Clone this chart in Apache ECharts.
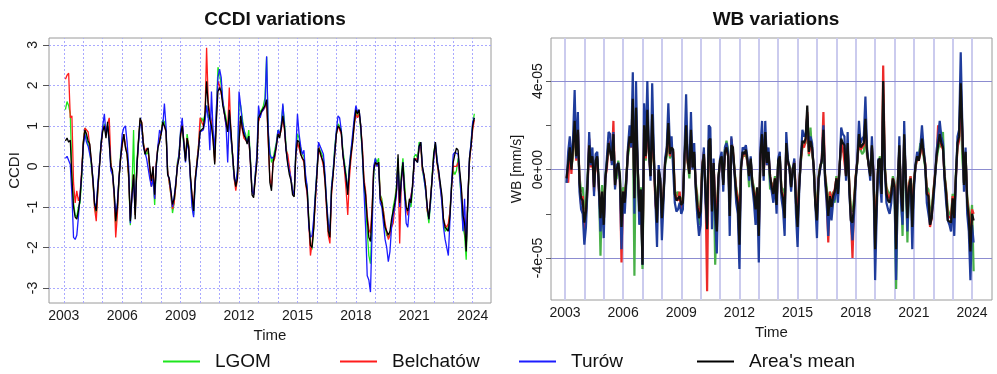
<!DOCTYPE html>
<html>
<head>
<meta charset="utf-8">
<script src="https://cdn.jsdelivr.net/npm/echarts@6/dist/echarts.min.js"></script>
<style>
  html, body { margin: 0; padding: 0; background: #fff; }
  #container { width: 997px; height: 374px; }
</style>
</head>
<body>
<div id="container"></div>
<script>
var dom = document.getElementById("container");
var myChart = echarts.init(dom, null, { renderer: "canvas" });

const FONT = "Liberation Sans, Arial, Helvetica, sans-serif";

// monthly series, first value = Feb 2003
const startYear = 2003;
const startMonth = 2;
const seriesNames = ["LGOM", "Belchatów", "Turów", "Area's mean"];
const yearTicks = [2003, 2006, 2009, 2012, 2015, 2018, 2021, 2024];
const ccdiTicks = [-3, -2, -1, 0, 1, 2, 3];
const wbTicks = [-4, -2, 0, 2, 4];       // in 1e-5 mm/s
const wbLabelTicks = [-4, 0, 4];

// CCDI values
const ccdiGreen = [
  1.4, 1.6, 1.5, 1.3, -0.2, -0.9, -1.2, -1.25, -1.0, -0.9, -0.3, 0.6,
  0.95, 0.7, 0.55, 0.4, 0.0, -0.4, -1.0, -1.2, -0.6, 0.05, 0.6, 0.9,
  1.05, 0.8, 1.0, 0.7, 0.1, -0.2, -0.7, -1.45, -1.1, -0.4, 0.3, 0.6,
  0.7, 0.5, 0.35, -0.3, -1.45, -0.6, 0.9, -1.2, 0.1, 0.65, 1.1, 1.05,
  0.6, 0.35, 0.3, 0.4, -0.1, -0.5, -0.2, -0.95, 0.0, 0.5, 0.65, 0.85,
  1.15, 1.1, 0.9, -0.1, -0.4, -0.7, -1.15, -0.9, -0.5, 0.1, 0.3, 0.85,
  0.95, 0.5, 0.2, 0.8, 0.5, -0.3, -0.8, -1.2, -0.4, 0.1, 0.5, 1.0,
  1.2, 1.1, 1.1, 1.5, 1.2, 1.3, 1.1, 0.8, 0.2, 1.3, 2.45, 2.3,
  2.0, 1.6, 1.4, 1.2, 0.9, 1.2, 0.8, 0.2, -0.3, -0.5, -0.2, 1.6,
  1.5, 1.2, 0.9, 0.8, 0.6, 0.9, 0.2, -0.6, -0.7, -0.2, 0.2, 1.3,
  1.3, 1.4, 1.5, 1.7, 2.7, 0.8, 0.4, 0.1, 0.2, 0.2, 0.6, 0.9,
  0.8, 1.0, 1.5, 1.1, 0.5, 0.15, -0.1, -0.3, -0.6, -0.65, 0.4, 0.8,
  0.7, 0.4, 0.3, 0.25, -0.3, -0.5, -1.3, -1.9, -2.05, -1.5, -0.7, -0.1,
  0.5, 0.4, 0.3, 0.2, -0.3, -0.9, -1.5, -1.7, -0.5, -0.1, 0.5, 0.85,
  1.05, 1.0, 0.9, 0.4, 0.1, -0.2, -0.6, 0.0, 0.4, 0.7, 1.1, 1.35,
  1.25, 1.3, 0.9, 0.3, -0.5, -0.9, -1.6, -2.2, -2.4, -1.3, -0.2, 0.2,
  0.1, 0.2, -0.7, -0.8, -1.1, -1.5, -1.7, -1.75, -1.7, -1.4, -1.0, -0.8,
  -0.5, 0.2, -1.0, -0.2, 0.2, -0.4, -1.0, -1.2, -0.9, -1.0, -0.5, 0.25,
  0.3, 0.2, 0.6, 0.55, -0.1, -0.3, -0.6, -1.1, -1.4, -0.9, -0.2, 0.35,
  0.55, 0.2, -0.2, -0.5, -0.8, -1.4, -1.6, -1.55, -1.5, -1.1, -0.4, -0.1,
  -0.2, -0.1, 0.2, -0.3, -0.8, -1.5, -1.7, -2.3, -0.9, 0.1, 0.6, 1.05,
  1.3
];
const ccdiRed = [
  2.15, 2.25, 2.3, 1.2, 1.25, -0.4, -0.9, -0.6, -0.85, -0.7, -0.1, 0.6,
  0.95, 0.9, 0.85, 0.5, 0.1, -0.4, -1.05, -1.35, -0.6, 0.05, 0.5, 0.95,
  1.0, 0.8, 1.05, 1.2, 0.1, -0.2, -0.7, -1.75, -1.2, -0.3, 0.2, 0.5,
  0.8, 0.5, 0.3, -0.3, -1.3, -0.7, -0.2, -1.2, -0.1, 0.6, 1.15, 1.1,
  0.6, 0.35, 0.45, 0.4, -0.1, -0.5, 0.0, -0.8, 0.1, 0.5, 0.65, 0.85,
  1.05, 1.0, 0.85, -0.1, -0.4, -0.7, -1.05, -0.9, -0.5, 0.05, 0.25, 0.75,
  1.1, 0.6, 0.2, 0.7, 0.5, -0.25, -0.7, -1.0, -0.3, 0.1, 0.5, 1.2,
  1.1, 1.0, 1.2, 2.93, 1.6, 1.3, 1.1, 0.7, 0.1, 1.2, 2.1, 2.0,
  1.8, 1.6, 1.3, 1.0, 0.9, 1.95, 0.8, 0.3, -0.3, -0.6, -0.3, 0.6,
  1.2, 0.9, 0.7, 0.7, 0.6, 0.7, 0.1, -0.6, -0.7, -0.3, 0.2, 1.1,
  1.25, 1.35, 1.4, 1.45, 1.6, 0.6, -0.3, -0.5, 0.1, 0.2, 0.5, 0.85,
  0.75, 0.9, 1.2, 0.9, 0.4, 0.3, 0.0, -0.3, -0.6, -0.7, 0.3, 0.6,
  0.6, 0.3, 0.2, 0.1, -0.4, -0.7, -1.4, -2.2, -1.9, -1.5, -0.9, -0.2,
  0.5, 0.3, 0.2, 0.0, -0.4, -1.1, -1.7, -1.9, -0.7, -0.2, 0.35, 0.8,
  1.0, 1.0, 0.8, 0.3, -0.1, -0.6, -1.2, -0.3, 0.2, 0.6, 1.0, 1.3,
  1.2, 1.3, 1.0, 0.5, -0.3, -0.6, -1.2, -1.55, -1.65, -1.0, 0.0, 0.1,
  0.0, 0.1, -0.7, -0.9, -1.1, -1.4, -1.6, -1.8, -1.7, -1.5, -1.4, -1.0,
  -0.6, 0.1, -1.9, -0.4, 0.0, -0.6, -1.0, -1.2, -0.9, -0.9, -0.5, 0.15,
  0.2, 0.15, 0.45, 0.5, -0.1, -0.2, -0.5, -1.1, -1.2, -0.8, -0.3, 0.25,
  0.5, 0.1, -0.2, -0.5, -0.8, -1.3, -1.45, -1.5, -1.4, -1.1, -0.5, 0.0,
  0.0, 0.0, 0.1, -0.2, -0.6, -1.1, -1.3, -2.0, -0.8, 0.1, 0.5, 0.9,
  1.15
];
const ccdiBlue = [
  0.2, 0.25, 0.25, 0.05, -0.7, -1.75, -1.8, -1.7, -1.25, -1.25, -0.2, 0.5,
  0.8, 0.6, 0.5, 0.5, 0.1, -0.3, -0.9, -1.0, -0.4, 0.05, 0.6, 1.0,
  1.3, 0.8, 1.0, 0.6, -0.1, -0.2, -0.6, -1.2, -0.9, -0.3, 0.2, 0.8,
  0.95, 1.0, 0.6, 0.0, -1.4, -0.8, -0.3, -1.1, 0.0, 0.55, 1.05, 1.0,
  0.5, 0.35, 0.2, 0.2, -0.3, -0.5, -0.3, -0.8, 0.0, 0.5, 0.9, 0.8,
  1.0, 1.55, 1.0, -0.2, -0.3, -0.6, -1.0, -0.75, -0.4, 0.0, 0.3, 0.9,
  1.2, 0.5, 0.1, 0.6, 0.4, -0.3, -1.0, -1.25, -0.4, 0.0, 0.4, 0.85,
  0.85, 0.9, 1.1, 1.5, 1.2, 0.4, 1.85, 0.9, 0.4, 1.4, 2.2, 2.4,
  2.2, 1.6, 1.3, 1.0, 0.1, 1.3, 0.7, 0.3, -0.3, -0.4, -0.1, 1.85,
  1.5, 1.1, 0.9, 0.7, 0.6, 0.75, 0.15, -0.6, -0.7, -0.2, 0.3, 1.5,
  1.2, 1.35, 1.4, 1.5, 2.72, 0.9, 0.3, 0.2, 0.2, 0.25, 0.55, 0.9,
  0.8, 1.0, 1.55, 1.0, 0.4, 0.1, -0.1, -0.3, -0.6, -0.7, 0.4, 1.3,
  0.8, 0.5, 0.3, 0.4, -0.2, -0.5, -1.5, -1.75, -1.7, -1.3, -0.7, -0.1,
  0.6, 0.5, 0.4, 0.3, -0.2, -0.9, -1.4, -1.6, -0.5, -0.1, 0.4, 0.9,
  1.25, 1.2, 0.9, 0.3, 0.0, -0.3, -0.6, 0.0, 0.4, 0.8, 1.2, 1.5,
  1.35, 1.4, 1.0, 0.3, -0.6, -1.5, -2.7, -2.8, -3.1, -1.6, 0.0, 0.2,
  0.0, 0.1, -0.9, -1.0, -1.4, -1.8, -2.0, -2.35, -2.1, -1.5, -1.2, -1.0,
  -0.7, 0.1, -1.0, -0.4, 0.1, -0.7, -1.4, -1.5, -1.0, -1.0, -0.5, 0.2,
  0.2, 0.1, 0.5, 0.6, 0.0, -0.3, -0.6, -1.0, -1.3, -0.9, -0.3, 0.2,
  0.6, 0.2, -0.1, -0.5, -0.9, -1.5, -1.8, -2.0, -2.2, -1.3, -0.4, 0.3,
  0.35, 0.35, 0.3, -0.2, -0.8, -1.6, -0.8, -2.0, -0.8, 0.2, 0.6, 1.1,
  1.2
];
const ccdiMean = [
  0.63, 0.7, 0.6, 0.65, -0.3, -1.0, -1.25, -1.3, -1.1, -0.8, -0.2, 0.55,
  0.9, 0.8, 0.63, 0.55, 0.13, -0.36, -0.94, -1.1, -0.5, 0.0, 0.55, 0.87,
  1.0, 0.7, 1.1, 0.6, 0.0, -0.1, -0.6, -1.35, -1.0, -0.3, 0.2, 0.55,
  0.8, 0.46, 0.3, -0.2, -1.35, -0.7, -0.2, -1.3, 0.0, 0.6, 1.2, 1.08,
  0.55, 0.3, 0.4, 0.46, 0.0, -0.36, 0.0, -0.7, 0.05, 0.46, 0.6, 0.8,
  1.1, 1.0, 0.87, -0.2, -0.3, -0.6, -0.94, -0.8, -0.45, 0.0, 0.2, 0.8,
  1.0, 0.6, 0.13, 0.7, 0.46, -0.2, -0.7, -1.1, -0.3, 0.05, 0.4, 0.87,
  0.9, 0.95, 1.3, 2.1, 1.5, 1.15, 1.0, 0.65, 0.05, 1.1, 1.85, 1.95,
  1.85, 1.5, 1.3, 1.1, 0.85, 1.4, 0.9, 0.3, -0.2, -0.5, -0.3, 0.6,
  1.25, 0.95, 0.78, 0.7, 0.55, 0.75, 0.1, -0.7, -0.77, -0.3, 0.1, 1.2,
  1.28, 1.37, 1.4, 1.5, 1.65, 0.7, -0.4, -0.6, 0.1, 0.13, 0.5, 0.8,
  0.7, 0.95, 1.25, 0.95, 0.4, 0.05, -0.2, -0.35, -0.7, -0.75, 0.3, 0.65,
  0.6, 0.3, 0.2, 0.15, -0.4, -0.6, -1.35, -1.95, -2.0, -1.55, -0.8, -0.2,
  0.45, 0.35, 0.2, 0.1, -0.35, -1.0, -1.6, -1.75, -0.6, -0.2, 0.3, 0.8,
  1.0, 0.95, 0.85, 0.3, 0.0, -0.3, -0.7, -0.1, 0.3, 0.6, 1.05, 1.4,
  1.3, 1.4, 1.0, 0.4, -0.4, -0.7, -1.3, -1.75, -1.85, -1.1, -0.1, 0.1,
  0.05, 0.1, -0.8, -0.9, -1.2, -1.5, -1.6, -1.7, -1.6, -1.3, -1.1, -0.9,
  -0.6, 0.3, -0.9, -0.3, 0.1, -0.6, -1.0, -1.1, -0.8, -0.9, -0.4, 0.2,
  0.2, 0.1, 0.5, 0.6, 0.0, -0.2, -0.5, -1.0, -1.3, -0.8, -0.3, 0.3,
  0.6, 0.1, -0.1, -0.4, -0.7, -1.3, -1.5, -1.55, -1.6, -1.2, -0.5, 0.1,
  0.3, 0.45, 0.4, -0.1, -0.5, -1.2, -1.4, -2.1, -0.8, 0.2, 0.5, 1.0,
  1.2
];

// WB values, in 1e-5 mm/s
const wbGreen = [
  -0.6, 0.2, 0.8, 0.1, 0.6, 1.5, 0.9, 1.2, -0.3, -1.0, -0.8, -1.8,
  -1.5, -0.3, 0.9, 0.4, 0.5, -0.6, 0.2, 0.5, -0.6, -3.9, -0.7, -2.0,
  -0.3, 0.4, 0.8, 0.9, 0.5, 1.4, -0.5, -0.4, 0.4, -0.2, -2.0, -0.8,
  -1.2, -0.3, 0.6, 1.1, 1.4, 2.5, -4.8, 1.9, 0.2, -1.5, -0.8, -4.5,
  1.2, 0.4, 1.8, 1.0, 0.0, 1.4, 0.3, -1.1, -1.5, -0.1, -0.6, -1.5,
  -1.0, 0.2, 0.6, 1.4, 0.5, 0.8, 0.5, -0.9, -1.2, -1.0, -1.3, -1.3,
  -1.3, 0.5, 1.3, 0.3, -0.4, 1.2, 0.3, 0.5, -0.6, -1.2, -2.5, -1.5,
  0.3, 0.6, -0.8, -1.9, 0.9, 1.0, -1.4, 0.2, -4.3, -2.0, -0.3, 0.3,
  0.5, -0.6, 0.9, 1.3, 0.9, -1.4, 0.8, 0.7, 0.0, -0.8, -1.2, -2.4,
  0.2, 0.7, 0.6, 0.7, 0.3, -0.8, 0.4, -0.5, -0.8, -1.3, -1.2, -2.1,
  0.5, 1.2, 0.3, 1.3, 0.4, 0.6, -0.9, -0.6, -0.8, -0.3, -1.2, 0.4,
  0.5, -0.8, -0.9, -1.6, 0.9, 0.3, 0.2, -0.7, 0.1, 0.2, -1.3, -1.9,
  -0.6, 0.3, 1.0, 1.0, 1.2, 2.5, 0.6, 1.9, 0.7, 0.2, -1.3, -1.7,
  -0.3, 0.2, 0.3, 1.3, -0.2, -0.8, -1.6, -1.0, -1.4, -1.0, -1.5, -0.3,
  -1.2, 0.2, 1.0, 0.8, 0.9, -0.2, 0.9, -0.6, -1.8, -1.9, -1.3, -0.3,
  0.3, 1.4, 0.9, 0.7, 0.8, 1.6, 0.6, 0.3, -0.2, 0.8, -0.3, -2.7,
  -1.2, 0.3, 0.6, -0.8, 3.4, 0.2, -0.8, -1.0, -1.2, -0.9, -0.3, -0.6,
  -5.4, -0.5, 0.8, -0.9, -3.0, 1.2, -0.3, -3.3, -0.6, -0.3, -2.0, -0.5,
  0.1, 0.5, 0.6, 1.2, 1.0, 0.6, 0.1, -0.8, -0.9, -2.0, -1.8, -1.0,
  -0.3, 0.4, 0.9, 1.2, 1.0, 1.7, -0.2, -0.9, -1.8, -2.0, -2.1, -1.1,
  -1.6, -0.2, 1.0, 1.7, 2.9, 0.5, -0.6, 0.6, -1.2, -1.8, -2.5, -1.6,
  -4.6
];
const wbRed = [
  -0.3, -0.6, 1.0, -0.2, 1.2, 2.0, 0.4, 1.9, -0.5, -1.6, -1.2, -2.7,
  -2.0, -0.9, 1.4, 0.1, 0.5, -1.0, 0.3, 0.5, -0.9, -2.0, -1.3, -2.5,
  -0.4, 0.1, 1.3, 1.0, 0.3, 2.2, -0.8, 0.1, 0.2, -0.4, -4.2, -1.0,
  -1.4, -0.5, 0.9, 1.3, 1.0, 2.6, -1.1, 2.2, 0.1, -1.7, -1.0, -4.0,
  1.8, 0.5, 2.1, 0.7, -0.3, 1.9, 0.5, -1.6, -2.1, 0.0, -0.6, -2.0,
  -1.1, 0.4, 0.8, 1.9, 0.6, 0.9, 0.8, -1.0, -1.3, -1.4, -1.0, -1.9,
  -1.4, 0.5, 1.5, 0.3, -0.1, 1.5, 0.1, 0.7, -0.7, -1.6, -2.0, -1.7,
  0.2, 0.8, -0.8, -5.5, 1.0, 1.1, -1.6, 0.3, -1.4, -2.2, -0.4, 0.3,
  0.6, -0.6, 0.6, 1.0, 0.7, -1.8, 1.4, 0.8, -0.1, -0.9, -1.3, -2.9,
  0.1, 0.6, 0.6, 0.8, 0.3, -0.3, 0.4, -0.6, -1.0, -1.5, -0.9, -2.8,
  0.6, 1.4, -0.3, 1.5, 0.2, 0.7, -0.3, -0.7, -1.1, -0.4, -1.5, 0.3,
  0.5, -0.9, -1.2, -1.9, 1.1, 0.3, 0.1, -0.8, 0.0, 0.4, -1.2, -2.1,
  -0.7, 0.4, 1.1, 1.0, 1.3, 2.6, 0.7, 1.1, 0.9, 0.1, -1.5, -2.0,
  -0.4, 0.1, 0.5, 2.6, -0.2, -1.2, -3.3, -1.0, -1.5, -1.1, -0.9, -0.4,
  -0.9, 0.1, 1.2, 1.0, 1.0, -0.3, 1.0, -0.6, -2.1, -4.0, -1.5, -0.3,
  0.4, 1.3, 0.9, 0.9, 1.1, 2.0, 0.8, 0.2, -0.2, 1.0, -0.2, -3.2,
  -1.3, 0.3, 0.4, -1.0, 4.7, 0.1, -0.9, -1.2, -1.3, -1.0, -0.4, -0.7,
  -3.0, -0.6, 0.9, -0.9, -1.7, 1.4, -0.3, -2.0, -0.7, -0.3, -2.2, -0.6,
  0.1, 0.5, 0.4, 0.7, 1.2, 0.7, 0.3, -1.0, -1.1, -2.6, -2.2, -1.1,
  -0.3, 0.5, 2.0, 1.3, 1.1, 0.9, -0.3, -1.0, -2.1, -2.1, -2.2, -1.2,
  -2.0, -0.4, 1.0, 1.3, 3.0, 1.6, -0.6, 0.7, -1.4, -2.0, -3.4, -1.8,
  -2.0
];
const wbBlue = [
  -0.6, 0.8, 1.5, 0.2, 1.4, 3.6, 0.5, 2.6, -1.0, -1.8, -2.0, -3.4,
  -2.6, -0.8, 1.7, 0.2, 1.0, -1.2, 0.7, 0.8, -1.0, -2.8, -1.4, -3.1,
  -0.5, 0.6, 1.7, 1.6, 0.2, 1.7, -0.9, 0.2, 0.3, -0.5, -3.6, -1.2,
  -2.0, -0.6, 1.0, 2.0, 1.0, 4.4, -2.0, 4.0, 0.3, -2.5, -1.1, -4.3,
  3.0, 1.0, 4.0, 0.8, -0.5, 3.9, 0.9, -1.5, -3.5, 0.2, -0.5, -3.2,
  -1.5, 0.5, 1.0, 3.0, 1.0, 1.5, 1.5, -1.5, -1.9, -1.8, -1.5, -2.0,
  -1.8, 0.8, 3.4, 0.5, 0.0, 2.6, 0.0, 1.2, -1.0, -2.2, -3.0, -2.5,
  0.0, 1.0, -1.5, -2.5, 2.0, 1.9, -2.7, 0.5, -2.3, -3.8, -0.5, 0.5,
  0.8, -1.0, 1.0, 1.2, 0.8, -3.0, 1.5, 1.5, -0.2, -1.5, -2.0, -4.5,
  0.0, 1.0, 0.9, 1.1, 0.5, -0.5, 0.6, -0.8, -1.5, -2.5, -1.0, -4.2,
  1.0, 2.2, -0.5, 2.2, 0.2, 1.0, -0.5, -1.0, -1.5, -0.5, -2.0, 0.5,
  0.8, -1.3, -1.8, -3.0, 1.7, 0.5, 0.0, -1.0, 0.0, 0.5, -2.0, -3.5,
  -1.0, 0.5, 1.8, 1.5, 1.6, 2.4, 1.0, 1.5, 1.2, 0.0, -1.6, -3.1,
  -0.5, 0.0, 0.5, 2.0, -0.5, -1.5, -3.0, -1.5, -2.3, -1.5, -1.3, -0.5,
  -1.5, 0.0, 1.9, 1.6, 1.5, -0.5, 1.7, -1.0, -2.3, -3.2, -2.0, -0.5,
  0.5, 2.2, 1.2, 1.4, 1.5, 3.3, 1.0, 0.2, -0.5, 1.5, -0.3, -5.0,
  -2.0, 0.5, 0.5, -1.5, 3.0, 0.0, -1.5, -1.8, -2.0, -1.5, -0.5, -1.0,
  -5.0, -1.0, 1.5, -1.5, -2.5, 2.2, -0.5, -2.8, -1.0, -0.5, -3.6, -1.0,
  0.2, 0.8, 0.5, 1.0, 2.0, 1.0, 0.2, -1.5, -1.5, -2.5, -2.5, -1.5,
  -0.5, 0.8, 1.5, 2.2, 1.5, 1.2, -0.5, -1.5, -2.3, -2.5, -2.8, -1.5,
  -3.0, -0.5, 1.5, 1.8, 5.3, 2.0, -1.0, 1.0, -2.0, -2.8, -5.0, -2.5,
  -3.3
];
const wbMean = [
  -0.4, 0.3, 1.0, 0.0, 1.0, 2.2, 0.6, 1.8, -0.6, -1.3, -1.4, -2.4,
  -1.9, -0.5, 1.1, 0.3, 0.6, -0.8, 0.4, 0.6, -0.7, -2.2, -1.0, -2.5,
  -0.4, 0.3, 1.2, 1.2, 0.4, 1.6, -0.7, 0.0, 0.3, -0.3, -2.6, -1.0,
  -1.5, -0.4, 0.8, 1.5, 1.2, 3.2, -1.3, 2.8, 0.2, -1.9, -0.9, -4.3,
  2.0, 0.6, 2.7, 0.8, -0.3, 2.5, 0.6, -1.2, -2.4, 0.0, -0.4, -2.2,
  -1.2, 0.3, 0.8, 2.1, 0.7, 1.0, 0.9, -1.1, -1.4, -1.3, -1.2, -1.6,
  -1.5, 0.6, 2.0, 0.4, -0.2, 1.8, 0.1, 0.8, -0.8, -1.7, -2.2, -1.9,
  0.1, 0.7, -1.0, -2.7, 1.3, 1.4, -1.9, 0.3, -1.8, -2.8, -0.4, 0.4,
  0.6, -0.7, 0.8, 1.0, 0.6, -2.1, 1.1, 1.0, -0.1, -1.1, -1.5, -3.4,
  0.1, 0.8, 0.7, 0.9, 0.4, -0.3, 0.5, -0.6, -1.1, -1.8, -0.8, -3.0,
  0.7, 1.6, -0.3, 1.7, 0.3, 0.8, -0.3, -0.8, -1.1, -0.4, -1.6, 0.4,
  0.6, -1.0, -1.3, -2.2, 1.2, 0.4, 0.1, -0.8, 0.0, 0.3, -1.5, -2.6,
  -0.8, 0.5, 1.3, 1.2, 1.4, 2.9, 0.8, 1.3, 1.0, 0.1, -1.6, -2.3,
  -0.4, 0.1, 0.4, 1.8, -0.3, -1.1, -2.1, -1.2, -1.7, -1.2, -1.0, -0.4,
  -1.1, 0.1, 1.4, 1.2, 1.1, -0.3, 1.2, -0.8, -2.3, -2.4, -1.6, -0.4,
  0.4, 1.6, 1.0, 1.1, 1.2, 2.3, 0.8, 0.2, -0.3, 1.1, -0.2, -3.6,
  -1.5, 0.4, 0.5, -1.1, 4.0, 0.1, -1.1, -1.4, -1.5, -1.1, -0.4, -0.8,
  -3.6, -0.7, 1.1, -1.1, -1.9, 1.6, -0.4, -2.2, -0.8, -0.4, -2.6, -0.7,
  0.2, 0.6, 0.4, 0.8, 1.4, 0.8, 0.2, -1.1, -1.2, -2.5, -2.2, -1.2,
  -0.4, 0.6, 1.1, 1.6, 1.2, 1.0, -0.3, -1.1, -2.3, -2.3, -2.4, -1.3,
  -2.2, -0.3, 1.2, 1.5, 3.9, 1.8, -0.7, 0.8, -1.5, -2.2, -3.7, -2.0,
  -2.3
];

const ccdiSets = [ccdiGreen, ccdiRed, ccdiBlue, ccdiMean];
const wbSets = [wbGreen, wbRed, wbBlue, wbMean];
ccdiSets.concat(wbSets).forEach(function (a, k) {
  if (a.length !== ccdiMean.length) throw new Error("series " + k + " has " + a.length);
});

const leftColors = ["#1ee61e", "#ff1c1c", "#1c1cff", "#000000"];
const rightColors = ["#48b048", "#ec2a2a", "#1f3c9c", "#111111"];

function toPoints(arr) {
  return arr.map(function (v, i) {
    return [startYear + (startMonth - 1 + i) / 12, v];
  });
}

const gridYears = [];
for (let y = 2003; y <= 2024; y++) gridYears.push(y);

function gridLines(idx, years, levels, vStyle, hStyle) {
  return {
    type: "line",
    xAxisIndex: idx,
    yAxisIndex: idx,
    data: [],
    silent: true,
    z: 1,
    markLine: {
      silent: true,
      symbol: "none",
      animation: false,
      label: { show: false },
      data: years
        .map(function (y) { return { xAxis: y, lineStyle: vStyle }; })
        .concat(levels.map(function (v) { return { yAxis: v, lineStyle: hStyle }; })),
    },
  };
}

const axisText = { fontFamily: FONT, fontSize: 14, color: "#1a1a1a" };

function xAxisFor(idx, min, max, gap) {
  return {
    type: "value",
    gridIndex: idx,
    min: min,
    max: max,
    name: "Time",
    nameLocation: "middle",
    nameGap: gap,
    nameTextStyle: { fontFamily: FONT, fontSize: 15, color: "#1a1a1a" },
    axisLine: { show: false },
    axisTick: { show: true, length: 5, customValues: yearTicks, lineStyle: { color: "#555" } },
    axisLabel: Object.assign({
      margin: 6,
      customValues: yearTicks,
      formatter: function (v) { return String(v); },
    }, axisText),
    splitLine: { show: false },
  };
}

const series = [
  gridLines(0, gridYears, ccdiTicks,
    { color: "#a9a9ff", width: 1, type: [2, 2] },
    { color: "#a9a9ff", width: 1, type: [2, 2] }),
  gridLines(1, gridYears, [-4, 0, 4],
    { color: "#cbcbee", width: 2, type: "solid" },
    { color: "#8c8cd0", width: 1, type: "solid" }),
];
seriesNames.forEach(function (name, k) {
  series.push({
    name: name,
    type: "line",
    xAxisIndex: 0,
    yAxisIndex: 0,
    data: toPoints(ccdiSets[k]),
    showSymbol: false,
    symbol: "none",
    color: leftColors[k],
    lineStyle: { width: 1.3, color: leftColors[k] },
    z: 10 + k,
  });
});
seriesNames.forEach(function (name, k) {
  series.push({
    name: name,
    type: "line",
    xAxisIndex: 1,
    yAxisIndex: 1,
    data: toPoints(wbSets[k]),
    showSymbol: false,
    symbol: "none",
    color: rightColors[k],
    lineStyle: { width: 2.2, color: rightColors[k] },
    z: 10 + k,
  });
});

const legendLeft = [158, 335, 514, 692];

option = {
  animation: false,
  backgroundColor: "#ffffff",
  title: [
    {
      text: "CCDI variations",
      left: 270,
      top: 5,
      textAlign: "center",
      textStyle: { fontFamily: FONT, fontSize: 19, fontWeight: "bold", color: "#111" },
    },
    {
      text: "WB variations",
      left: 771,
      top: 5,
      textAlign: "center",
      textStyle: { fontFamily: FONT, fontSize: 19, fontWeight: "bold", color: "#111" },
    },
  ],
  legend: seriesNames.map(function (name, k) {
    return {
      data: [name],
      left: legendLeft[k],
      top: 347,
      icon: "rect",
      itemWidth: 37,
      itemHeight: 2,
      selectedMode: false,
      textStyle: { fontFamily: FONT, fontSize: 19, color: "#111", padding: [0, 0, 0, 10] },
    };
  }),
  grid: [
    { left: 49, right: 506, top: 38, bottom: 71, show: true, borderColor: "#9a9a9a", borderWidth: 1 },
    { left: 551, right: 5, top: 38, bottom: 74, show: true, borderColor: "#9a9a9a", borderWidth: 1 },
  ],
  xAxis: [
    xAxisFor(0, 2002.24, 2024.94, 20),
    xAxisFor(1, 2002.28, 2025.03, 20),
  ],
  yAxis: [
    {
      type: "value",
      gridIndex: 0,
      min: -3.37,
      max: 3.17,
      name: "CCDI",
      nameLocation: "middle",
      nameGap: 27,
      nameTextStyle: { fontFamily: FONT, fontSize: 15, color: "#1a1a1a" },
      axisLine: { show: false },
      axisTick: { show: true, length: 6, customValues: ccdiTicks, lineStyle: { color: "#555" } },
      axisLabel: Object.assign({ rotate: 90, margin: 9, customValues: ccdiTicks }, axisText),
      splitLine: { show: false },
    },
    {
      type: "value",
      gridIndex: 1,
      min: -5.9,
      max: 5.95,
      name: "WB [mm/s]",
      nameLocation: "middle",
      nameGap: 27,
      nameTextStyle: { fontFamily: FONT, fontSize: 14, color: "#1a1a1a" },
      axisLine: { show: false },
      axisTick: { show: true, length: 5, customValues: wbTicks, lineStyle: { color: "#555" } },
      axisLabel: Object.assign({
        rotate: 90,
        margin: 6,
        customValues: wbLabelTicks,
        formatter: function (v) { return v === 0 ? "0e+00" : v + "e-05"; },
      }, axisText),
      splitLine: { show: false },
    },
  ],
  series: series,
};

myChart.setOption(option);
window.addEventListener("resize", myChart.resize);
</script>
</body>
</html>
